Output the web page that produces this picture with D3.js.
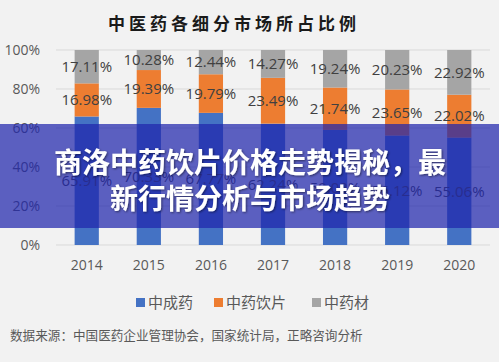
<!DOCTYPE html>
<html><head><meta charset="utf-8">
<script src="https://cdn.jsdelivr.net/npm/d3@7/dist/d3.min.js"></script>
<style>
html,body{margin:0;padding:0;background:#f2f2f2;}
svg{display:block;}
</style></head>
<body>
<svg id="c" width="499" height="362"></svg>
<script>
const years = ["2014","2015","2016","2017","2018","2019","2020"];
const seriesNames = ["中成药","中药饮片","中药材"];
const chengyao = [65.91, 70.33, 67.77, 62.24, 59.02, 56.12, 55.06];
const yinpian  = [16.98, 19.39, 19.79, 23.49, 21.74, 23.65, 22.02];
const yaocai   = [17.11, 10.28, 12.44, 14.27, 19.24, 20.23, 22.92];
const yTicks = [0, 20, 40, 60, 80, 100];
const colors = ["#4472c4", "#ed7d31", "#a5a5a5"];

const svg = d3.select("#c");
svg.append("rect").attr("width",499).attr("height",362).attr("fill","#f2f2f2");

const x = d3.scaleBand().domain(years).range([56, 490]).paddingInner(0.61).paddingOuter(0.3);
const y = d3.scaleLinear().domain([0, 100]).range([245, 50]);

// title
svg.append("text").attr("x", 234).attr("y", 30).attr("text-anchor","middle")
  .attr("font-family","'Noto Sans CJK SC'").attr("font-weight","bold")
  .attr("font-size",17).attr("letter-spacing",4).attr("fill","#1a1a1a")
  .text("中医药各细分市场所占比例");

// gridlines
svg.append("g").selectAll("line").data(yTicks).join("line")
  .attr("x1", 56).attr("x2", 490)
  .attr("y1", d => y(d)).attr("y2", d => y(d))
  .attr("stroke", "#d9d9d9").attr("stroke-width", 1);

// y axis labels
const yAxis = d3.axisLeft(y).tickValues(yTicks).tickFormat(d => d + "%").tickSize(0).tickPadding(0);
const ya = svg.append("g").attr("transform","translate(40,0)").call(yAxis);
ya.select(".domain").remove();
ya.selectAll("text").attr("font-family","'Open Sans'").attr("font-size",14).attr("fill","#595959");

// x axis labels
const xAxis = d3.axisBottom(x).tickSize(0).tickPadding(0);
const xa = svg.append("g").attr("transform","translate(0,257)").call(xAxis);
xa.select(".domain").remove();
xa.selectAll("text").attr("font-family","'Open Sans'").attr("font-size",14).attr("fill","#595959").attr("dy","0.9em");

// stacked data
const rows = years.map((yr, i) => ({year: yr, "中成药": chengyao[i], "中药饮片": yinpian[i], "中药材": yaocai[i]}));
const stack = d3.stack().keys(seriesNames)(rows);

const g = svg.append("g");
stack.forEach((s, si) => {
  g.append("g").attr("fill", colors[si]).selectAll("rect").data(s).join("rect")
    .attr("x", d => x(d.data.year)).attr("width", x.bandwidth())
    .attr("y", d => y(d[1])).attr("height", d => y(d[0]) - y(d[1]));
});
stack.forEach((s, si) => {
  g.append("g").selectAll("text").data(s).join("text")
    .attr("x", d => x(d.data.year) + x.bandwidth()/2)
    .attr("y", d => y((d[0] + d[1]) / 2))
    .attr("dy","0.35em").attr("text-anchor","middle")
    .attr("font-family","'Open Sans'").attr("font-size",15).attr("fill","#404040")
    .text(d => (d[1] - d[0]).toFixed(2) + "%");
});

// legend
const legendX = [136, 214, 312];
const lg = svg.append("g");
seriesNames.forEach((n, i) => {
  lg.append("rect").attr("x", legendX[i]).attr("y", 298).attr("width", 9).attr("height", 9).attr("fill", colors[i]);
  lg.append("text").attr("x", legendX[i] + 12).attr("y", 303).attr("dy","0.35em")
    .attr("font-family","'Noto Sans CJK SC'").attr("font-size",15).attr("fill","#595959").text(n);
});

// source
svg.append("text").attr("x", 10).attr("y", 336).attr("dy","0.35em")
  .attr("font-family","'Noto Sans CJK SC'").attr("font-size",12.6).attr("fill","#595959")
  .text("数据来源：中国医药企业管理协会，国家统计局，正略咨询分析");

// banner overlay
svg.append("rect").attr("x",0).attr("y",124).attr("width",499).attr("height",104)
  .attr("fill","rgb(32,38,172)").attr("fill-opacity",0.72);
const bannerLines = ["商洛中药饮片价格走势揭秘，最", "新行情分析与市场趋势"];
const defs = svg.append("defs");
const f = defs.append("filter").attr("id","sh").attr("x","-10%").attr("y","-30%").attr("width","120%").attr("height","160%");
f.append("feDropShadow").attr("dx",1).attr("dy",1).attr("stdDeviation",1.2).attr("flood-color","#000").attr("flood-opacity",0.5);
svg.append("g").attr("filter","url(#sh)").selectAll("text").data(bannerLines).join("text")
  .attr("x", 250).attr("y", (d, i) => 163 + i * 36).attr("dy","0.35em").attr("text-anchor","middle")
  .attr("font-family","'Noto Sans CJK SC'").attr("font-weight","bold").attr("font-size",28)
  .attr("fill","#ffffff").text(d => d);
</script>
</body></html>
